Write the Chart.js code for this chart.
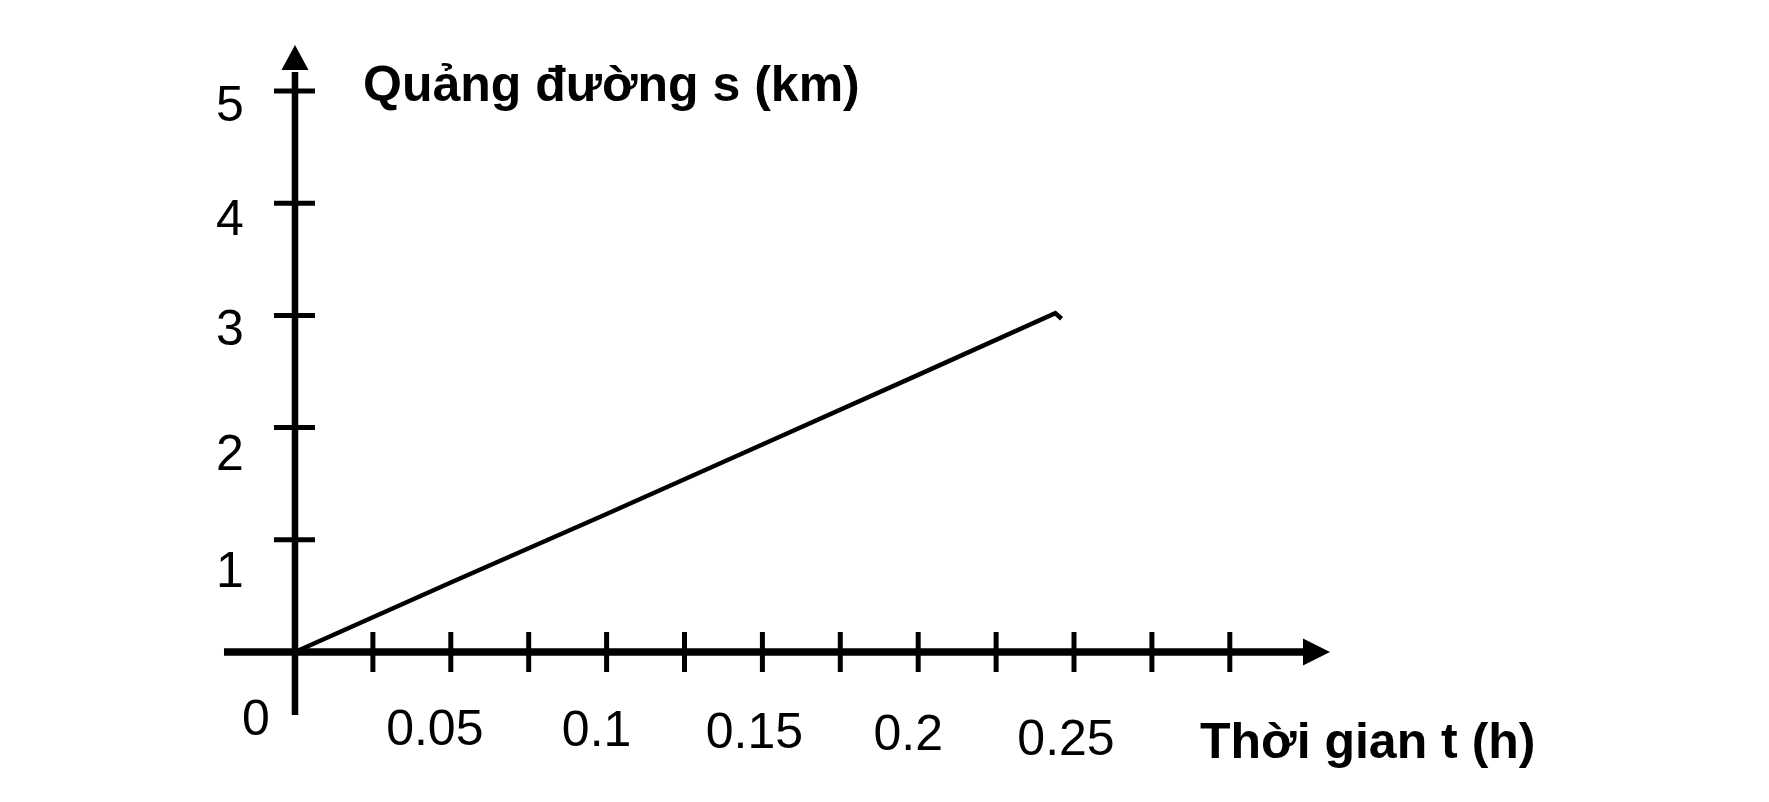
<!DOCTYPE html>
<html>
<head>
<meta charset="utf-8">
<script src="https://cdn.jsdelivr.net/npm/chart.js@4/dist/chart.umd.min.js"></script>
<style>
  html, body { margin: 0; padding: 0; background: #ffffff; }
  #wrap { width: 1769px; height: 802px; }
  canvas { display: block; }
</style>
</head>
<body>
<div id="wrap"><canvas id="c" width="1769" height="802"></canvas></div>
<script>
// ---- data ----
const timeValues     = [0, 0.05, 0.1, 0.15, 0.2, 0.244, 0.246];   // t (h)
const distanceValues = [0, 0.62, 1.23, 1.85, 2.47, 3.02, 2.97];   // s (km)

const xTickValues  = [0.025, 0.05, 0.075, 0.1, 0.125, 0.15, 0.175, 0.2, 0.225, 0.25, 0.275, 0.3];
const xLabelValues = [0.05, 0.1, 0.15, 0.2, 0.25];
const xTickLabels  = ['0.05', '0.1', '0.15', '0.2', '0.25'];
const yTickValues  = [1, 2, 3, 4, 5];
const yTickLabels  = ['1', '2', '3', '4', '5'];
const originLabel  = '0';
const yAxisTitle   = 'Quảng đường s (km)';
const xAxisTitle   = 'Thời gian t (h)';

const points = timeValues.map((t, i) => ({ x: t, y: distanceValues[i] }));

const FONT = '"Liberation Sans", Arial, "DejaVu Sans", sans-serif';

const axesPlugin = {
  id: 'handAxes',
  beforeDatasetsDraw(chart, args, opts) {
    const ctx = chart.ctx;
    const xs = chart.scales.x, ys = chart.scales.y;
    const x0 = xs.getPixelForValue(0);
    const y0 = ys.getPixelForValue(0);
    ctx.save();
    ctx.fillStyle = '#000';
    ctx.strokeStyle = '#000';
    ctx.lineCap = 'butt';

    // x axis line + arrow
    ctx.lineWidth = 7.5;
    ctx.beginPath();
    ctx.moveTo(x0 - 71, y0);
    ctx.lineTo(x0 + 1010, y0);
    ctx.stroke();
    ctx.beginPath();
    ctx.moveTo(x0 + 1008, y0 - 13.5);
    ctx.lineTo(x0 + 1035, y0);
    ctx.lineTo(x0 + 1008, y0 + 13.5);
    ctx.closePath();
    ctx.fill();

    // y axis line + arrow
    ctx.lineWidth = 6.5;
    ctx.beginPath();
    ctx.moveTo(x0, y0 + 63);
    ctx.lineTo(x0, y0 - 580);
    ctx.stroke();
    ctx.beginPath();
    ctx.moveTo(x0 - 13.5, y0 - 582);
    ctx.lineTo(x0, y0 - 607);
    ctx.lineTo(x0 + 13.5, y0 - 582);
    ctx.closePath();
    ctx.fill();

    // x ticks
    ctx.lineWidth = 5;
    xTickValues.forEach(v => {
      const px = xs.getPixelForValue(v);
      ctx.beginPath();
      ctx.moveTo(px, y0 - 20);
      ctx.lineTo(px, y0 + 20);
      ctx.stroke();
    });
    // y ticks
    yTickValues.forEach(v => {
      const py = ys.getPixelForValue(v);
      ctx.beginPath();
      ctx.moveTo(x0 - 21, py);
      ctx.lineTo(x0 + 20, py);
      ctx.stroke();
    });

    // tick labels
    ctx.font = '50px ' + FONT;
    ctx.textAlign = 'center';
    ctx.textBaseline = 'alphabetic';
    const xDy = opts.xLabelDy, xDx = opts.xLabelDx;
    xLabelValues.forEach((v, i) => {
      const px = xs.getPixelForValue(v);
      ctx.fillText(xTickLabels[i], px + xDx[i], y0 + xDy[i]);
    });
    const yDy = opts.yLabelDy;
    yTickValues.forEach((v, i) => {
      const py = ys.getPixelForValue(v);
      ctx.fillText(yTickLabels[i], x0 - 65, py + yDy[i]);
    });
    ctx.fillText(originLabel, x0 - 39, y0 + 83);

    // axis titles
    ctx.font = 'bold 50px ' + FONT;
    ctx.textAlign = 'left';
    ctx.fillText(yAxisTitle, x0 + 68, y0 - 551);
    ctx.fillText(xAxisTitle, x0 + 905, y0 + 106);
    ctx.restore();
  }
};

new Chart(document.getElementById('c'), {
  type: 'line',
  data: {
    datasets: [{
      data: points,
      borderColor: '#000',
      borderWidth: 4.5,
      pointRadius: 0,
      tension: 0,
      fill: false,
      clip: false,
      borderJoinStyle: 'miter'
    }]
  },
  options: {
    responsive: false,
    devicePixelRatio: 1,
    animation: false,
    layout: { padding: 0 },
    events: [],
    scales: {
      x: { type: 'linear', display: false, min: -0.09467, max: 0.47304 },
      y: { type: 'linear', display: false, min: -1.3369, max: 5.8111 }
    },
    plugins: {
      legend: { display: false },
      tooltip: { enabled: false },
      title: { display: false },
      handAxes: {
        xLabelDx: [-16, -10, -8, -10, -8],
        xLabelDy: [93, 94, 96, 98, 103],
        yLabelDy: [47, 42, 30, 32, 30]
      }
    }
  },
  plugins: [axesPlugin]
});
</script>
</body>
</html>
